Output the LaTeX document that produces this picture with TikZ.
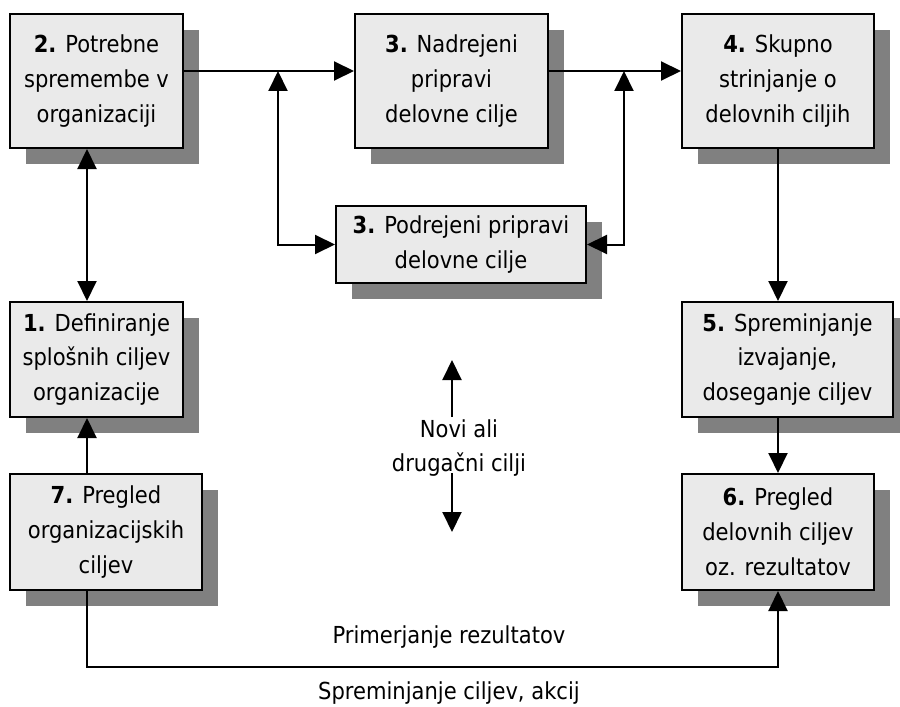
\documentclass[tikz,border=0pt]{standalone}
\usepackage{fontspec}
\setmainfont{DejaVu Sans Condensed}
\usetikzlibrary{arrows.meta,shadows}
\definecolor{boxfill}{HTML}{EAEAEA}
\definecolor{shade}{HTML}{808080}
\begin{document}
\begin{tikzpicture}[x=1bp,y=-1bp,
  font=\fontsize{23.5}{35}\selectfont,
  box/.style={draw=black,line width=2bp,fill=boxfill,inner sep=0pt,align=center,
    drop shadow={shadow xshift=16bp,shadow yshift=-16bp,fill=shade,opacity=1}},
  conn/.style={line width=2bp},
  tip/.style={-{Triangle[length=20bp,width=19bp]}},
  tiptwo/.style={{Triangle[length=20bp,width=19bp]}-{Triangle[length=20bp,width=19bp]}},
  lbl/.style={inner sep=0pt,align=center}]
\useasboundingbox (0,0) rectangle (900,707);
% boxes
\node[box,minimum width=173bp,minimum height=134bp] (b2) at (96.5,81) {\textbf{2.} Potrebne\\spremembe v\\organizaciji};
\node[box,minimum width=193bp,minimum height=134bp] (b3n) at (451.5,81) {\textbf{3.} Nadrejeni\\pripravi\\delovne cilje};
\node[box,minimum width=192bp,minimum height=134bp] (b4) at (778,81) {\textbf{4.} Skupno\\strinjanje o\\delovnih ciljih};
\node[box,minimum width=250bp,minimum height=77bp] (b3p) at (461,244.5) {\textbf{3.} Podrejeni pripravi\\delovne cilje};
\node[box,minimum width=173bp,minimum height=115bp] (b1) at (96.5,359.5) {\textbf{1.} Definiranje\\splošnih ciljev\\organizacije};
\node[box,minimum width=211bp,minimum height=115bp] (b5) at (787.5,359.5) {\textbf{5.} Spreminjanje\\izvajanje,\\doseganje ciljev};
\node[box,minimum width=192bp,minimum height=116bp] (b7) at (106,532) {\textbf{7.} Pregled\\organizacijskih\\ciljev};
\node[box,minimum width=192bp,minimum height=116bp] (b6) at (778,532) {\textbf{6.} Pregled\\delovnih ciljev\\oz. rezultatov};
% free labels
\node[lbl] (novi) at (459,448) {Novi ali\\drugačni cilji};
\node[lbl] (prim) at (449,637) {Primerjanje rezultatov};
\node[lbl] (spre) at (449,693) {Spreminjanje ciljev, akcij};
% helper coordinates
\coordinate (ytop) at (0,71);
\coordinate (j1) at (278,71);
\coordinate (j2) at (624,71);
\coordinate (xL) at (87,0);
\coordinate (ybot) at (0,667);
\coordinate (nuA) at (452,417);
\coordinate (nuB) at (452,360);
\coordinate (ndA) at (452,473);
\coordinate (ndB) at (452,532);
% connectors
\draw[conn,tip] (b2.east |- ytop) -- (b3n.west |- ytop);
\draw[conn,tip] (b3n.east |- ytop) -- (b4.west |- ytop);
\draw[conn,tiptwo] (j1) -- (j1 |- b3p.west) -- (b3p.west);
\draw[conn,tiptwo] (j2) -- (j2 |- b3p.east) -- (b3p.east);
\draw[conn,tiptwo] (b2.south -| xL) -- (b1.north -| xL);
\draw[conn,tip] (b7.north -| xL) -- (b1.south -| xL);
\draw[conn,tip] (b4.south) -- (b4.south |- b5.north);
\draw[conn,tip] (b6.north |- b5.south) -- (b6.north);
\draw[conn,tip] (b7.south -| xL) -- (xL |- ybot) -- (b6.south |- ybot) -- (b6.south);
\draw[conn,tip] (nuA) -- (nuB);
\draw[conn,tip] (ndA) -- (ndB);
\end{tikzpicture}
\end{document}
